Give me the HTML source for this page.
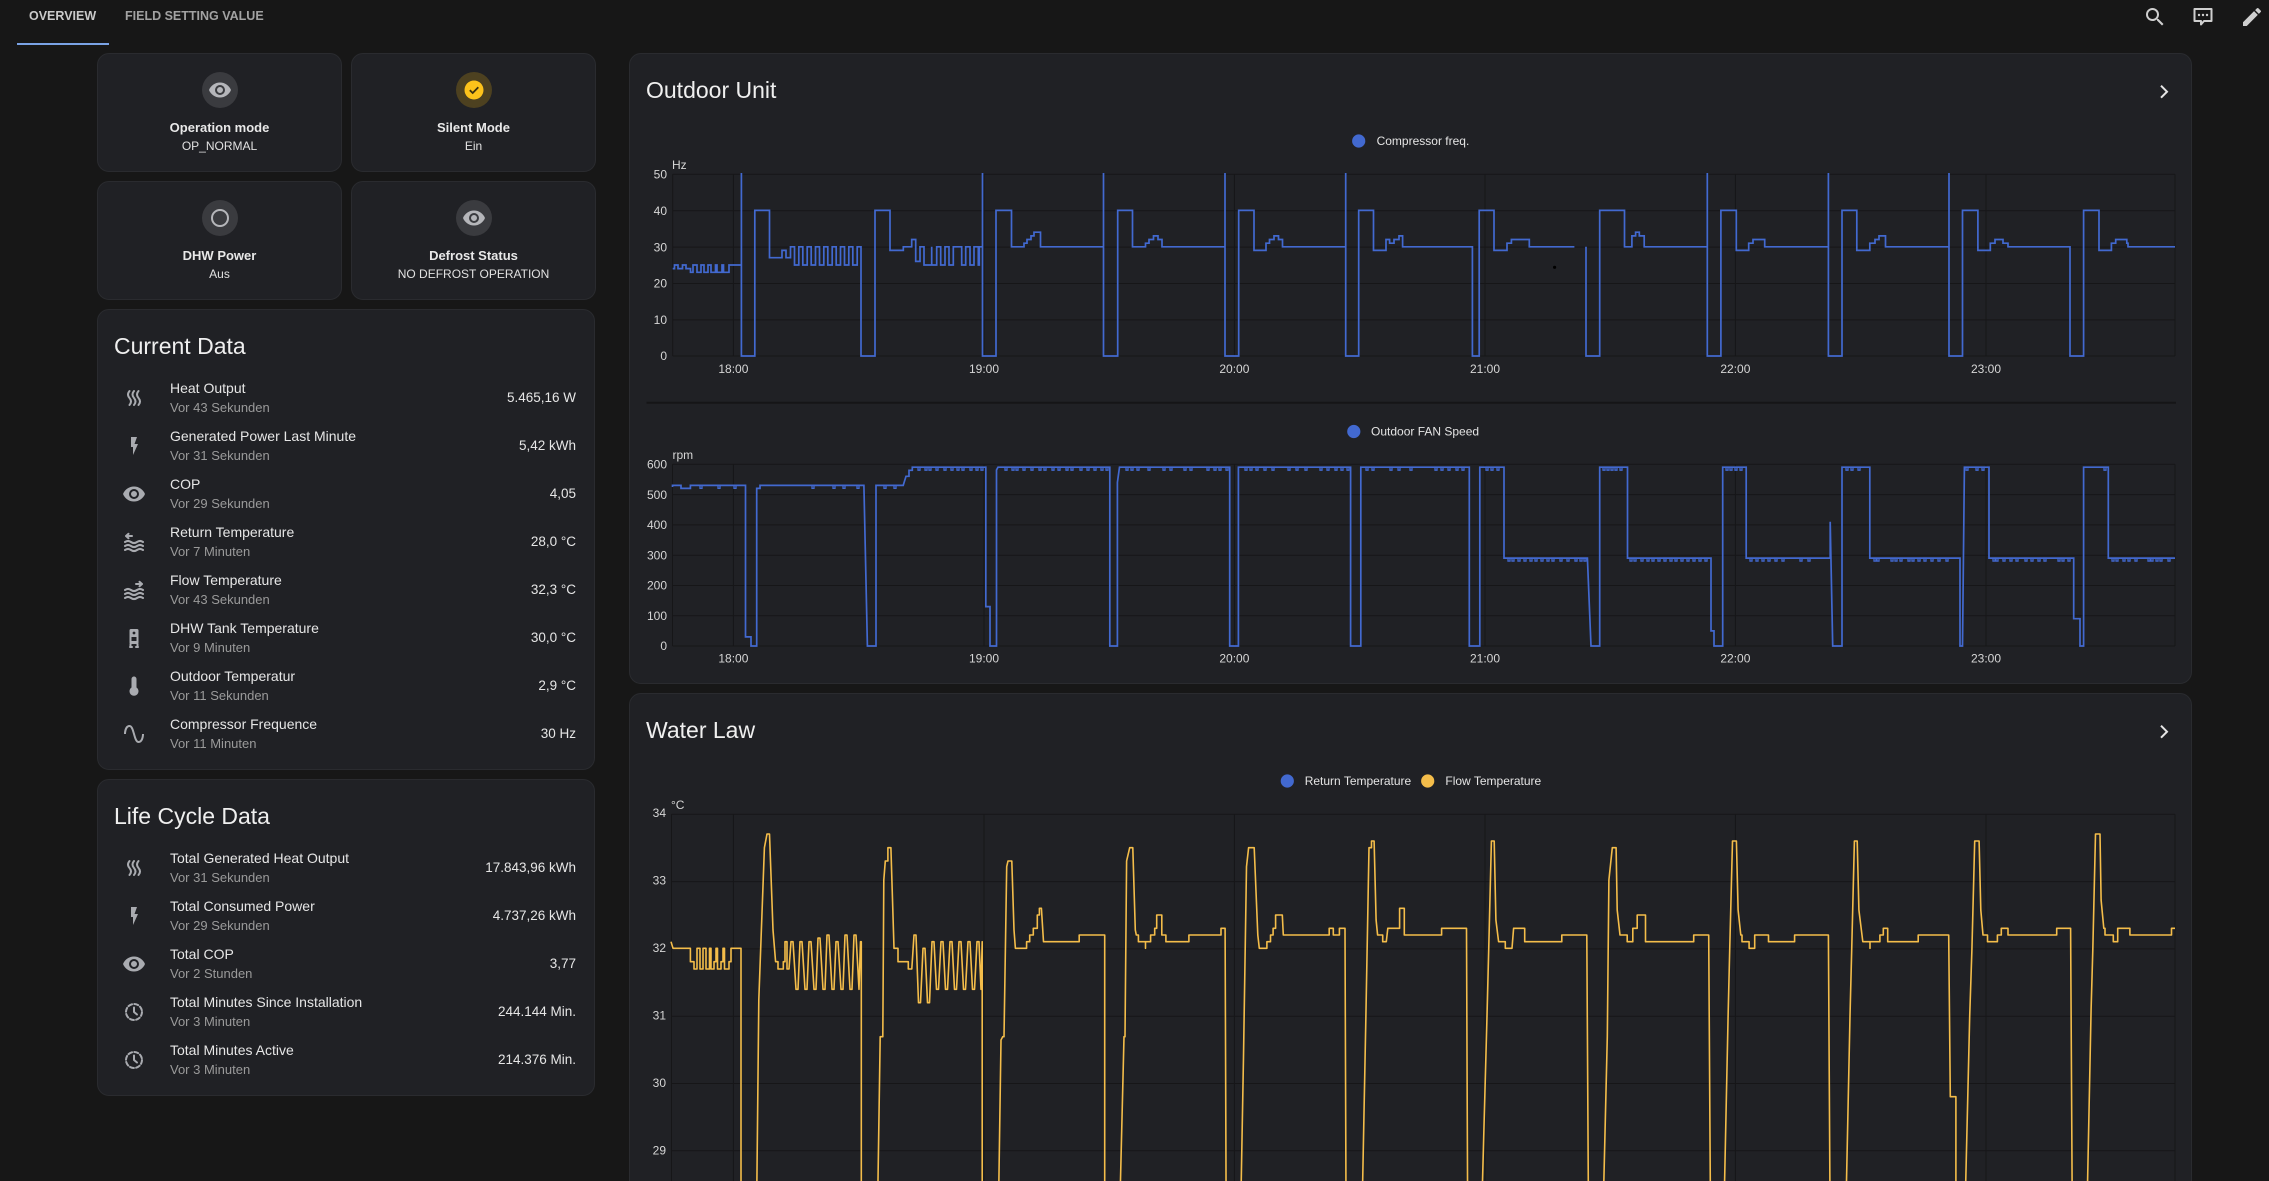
<!DOCTYPE html>
<html><head><meta charset="utf-8"><style>
*{box-sizing:border-box}
html,body{margin:0;padding:0;width:2269px;height:1181px;overflow:hidden;background:#171717}
#root{position:relative;width:2269px;height:1181px;overflow:hidden;background:#171717;font-family:"Liberation Sans",sans-serif;color:#e1e1e1}
.card{position:absolute;background:#202125;border:1px solid #2a2b2f;border-radius:12px}
.tile .ic{position:absolute;left:calc(50% - 18px);top:18px;width:36px;height:36px;border-radius:50%;background:#3a3b3f}
.tile .ic svg{position:absolute;left:6px;top:6px}
.tile .nm{position:absolute;left:0;right:0;top:66px;line-height:16px;text-align:center;font-size:13px;font-weight:bold;color:#e8e8e8}
.tile .st{position:absolute;left:0;right:0;top:85px;line-height:14px;text-align:center;font-size:12px;color:#e1e1e1}
.ttl{position:absolute;left:16px;top:22px;line-height:28px;font-size:23px;color:#efefef;white-space:nowrap}
.row{position:absolute;left:0;right:0;height:48px}
.row svg{position:absolute;left:24px;top:7px}
.row .n{position:absolute;left:72px;top:0;line-height:18px;font-size:14px;color:#e6e6e6;white-space:nowrap}
.row .s{position:absolute;left:72px;top:20.5px;line-height:16px;font-size:13px;color:#9a9a9a;white-space:nowrap}
.row .v{position:absolute;right:18px;top:10px;line-height:18px;font-size:13.5px;color:#e6e6e6;white-space:nowrap}
.ico{fill:#a9abb0}
.ics{fill:none;stroke:#a9abb0;stroke-width:2;stroke-linecap:round;stroke-linejoin:round}
</style></head><body><div id="root">

<!-- tabs -->
<div style="position:absolute;left:29px;top:8px;line-height:16px;font-size:12.5px;font-weight:bold;color:#cacaca">OVERVIEW</div>
<div style="position:absolute;left:125px;top:8px;line-height:16px;font-size:12.5px;font-weight:bold;color:#a2a2a2">FIELD SETTING VALUE</div>
<div style="position:absolute;left:17px;top:42.7px;width:92px;height:2px;background:#7aa3e5"></div>

<!-- top right icons -->
<svg style="position:absolute;left:2143px;top:5px" width="24" height="24" viewBox="0 0 24 24"><path fill="#cfcfcf" d="M9.5,3A6.5,6.5 0 0,1 16,9.5C16,11.11 15.41,12.59 14.44,13.73L14.71,14H15.5L20.5,19L19,20.5L14,15.5V14.71L13.73,14.44C12.59,15.41 11.11,16 9.5,16A6.5,6.5 0 0,1 3,9.5A6.5,6.5 0 0,1 9.5,3M9.5,5C7,5 5,7 5,9.5C5,12 7,14 9.5,14C12,14 14,12 14,9.5C14,7 12,5 9.5,5Z"/></svg>
<svg style="position:absolute;left:2191px;top:5px" width="24" height="24" viewBox="0 0 24 24"><path fill="none" stroke="#cfcfcf" stroke-width="2" stroke-linejoin="round" d="M3.5 4H20.5V16H13L10 19.5V16H3.5Z"/><circle cx="8" cy="10" r="1.2" fill="#cfcfcf"/><circle cx="12" cy="10" r="1.2" fill="#cfcfcf"/><circle cx="16" cy="10" r="1.2" fill="#cfcfcf"/></svg>
<svg style="position:absolute;left:2240px;top:5px" width="24" height="24" viewBox="0 0 24 24"><path fill="#cfcfcf" d="M20.71,7.04C21.1,6.65 21.1,6 20.71,5.63L18.37,3.29C18,2.9 17.35,2.9 16.96,3.29L15.12,5.12L18.87,8.87M3,17.25V21H6.75L17.81,9.93L14.06,6.18L3,17.25Z"/></svg>

<!-- tile cards -->
<div class="card tile" style="left:97px;top:53px;width:245px;height:119px">
 <div class="ic"><svg width="24" height="24" viewBox="0 0 24 24"><path fill="#b5b6ba" d="M12,9A3,3 0 0,0 9,12A3,3 0 0,0 12,15A3,3 0 0,0 15,12A3,3 0 0,0 12,9M12,17A5,5 0 0,1 7,12A5,5 0 0,1 12,7A5,5 0 0,1 17,12A5,5 0 0,1 12,17M12,4.5C7,4.5 2.73,7.61 1,12C2.73,16.39 7,19.5 12,19.5C17,19.5 21.27,16.39 23,12C21.27,7.61 17,4.5 12,4.5Z"/></svg></div>
 <div class="nm">Operation mode</div><div class="st">OP_NORMAL</div>
</div>
<div class="card tile" style="left:351px;top:53px;width:245px;height:119px">
 <div class="ic" style="background:#4d4120"><svg width="24" height="24" viewBox="0 0 24 24"><circle cx="12" cy="12" r="9.5" fill="#fcc21b"/><path d="M7.8 12.2L10.7 15L16.3 9.3" fill="none" stroke="#3a300f" stroke-width="1.8"/></svg></div>
 <div class="nm">Silent Mode</div><div class="st">Ein</div>
</div>
<div class="card tile" style="left:97px;top:181px;width:245px;height:119px">
 <div class="ic"><svg width="24" height="24" viewBox="0 0 24 24"><circle cx="12" cy="12" r="8" fill="none" stroke="#b5b6ba" stroke-width="2"/></svg></div>
 <div class="nm">DHW Power</div><div class="st">Aus</div>
</div>
<div class="card tile" style="left:351px;top:181px;width:245px;height:119px">
 <div class="ic"><svg width="24" height="24" viewBox="0 0 24 24"><path fill="#b5b6ba" d="M12,9A3,3 0 0,0 9,12A3,3 0 0,0 12,15A3,3 0 0,0 15,12A3,3 0 0,0 12,9M12,17A5,5 0 0,1 7,12A5,5 0 0,1 12,7A5,5 0 0,1 17,12A5,5 0 0,1 12,17M12,4.5C7,4.5 2.73,7.61 1,12C2.73,16.39 7,19.5 12,19.5C17,19.5 21.27,16.39 23,12C21.27,7.61 17,4.5 12,4.5Z"/></svg></div>
 <div class="nm">Defrost Status</div><div class="st">NO DEFROST OPERATION</div>
</div>

<!-- Current Data -->
<div class="card" style="left:97px;top:309px;width:498px;height:461px">
 <div class="ttl">Current Data</div>
 <div class="row" style="top:69px"><svg width="24" height="24" viewBox="0 0 24 24"><path class="ics" d="M7.5 5q-3 3.5 0 7t0 7M12 5q-3 3.5 0 7t0 7M16.5 5q-3 3.5 0 7t0 7"/></svg><div class="n">Heat Output</div><div class="s">Vor 43 Sekunden</div><div class="v">5.465,16 W</div></div>
 <div class="row" style="top:117px"><svg width="24" height="24" viewBox="0 0 24 24"><path class="ico" d="M9,3V13H11V21L16,10H12.5L15,3H9Z"/></svg><div class="n">Generated Power Last Minute</div><div class="s">Vor 31 Sekunden</div><div class="v">5,42 kWh</div></div>
 <div class="row" style="top:165px"><svg width="24" height="24" viewBox="0 0 24 24"><path class="ico" d="M12,9A3,3 0 0,0 9,12A3,3 0 0,0 12,15A3,3 0 0,0 15,12A3,3 0 0,0 12,9M12,17A5,5 0 0,1 7,12A5,5 0 0,1 12,7A5,5 0 0,1 17,12A5,5 0 0,1 12,17M12,4.5C7,4.5 2.73,7.61 1,12C2.73,16.39 7,19.5 12,19.5C17,19.5 21.27,16.39 23,12C21.27,7.61 17,4.5 12,4.5Z"/></svg><div class="n">COP</div><div class="s">Vor 29 Sekunden</div><div class="v">4,05</div></div>
 <div class="row" style="top:213px"><svg width="24" height="24" viewBox="0 0 24 24"><path class="ics" stroke-width="1.6" d="M4 6H10M4 6L6.5 3.8M4 6L6.5 8.2M3 12c2-1.4 4-1.4 6 0s4 1.4 6 0 4-1.4 6 0M3 16c2-1.4 4-1.4 6 0s4 1.4 6 0 4-1.4 6 0M3 20c2-1.4 4-1.4 6 0s4 1.4 6 0 4-1.4 6 0"/></svg><div class="n">Return Temperature</div><div class="s">Vor 7 Minuten</div><div class="v">28,0 °C</div></div>
 <div class="row" style="top:261px"><svg width="24" height="24" viewBox="0 0 24 24"><path class="ics" stroke-width="1.6" d="M14 6H20M20 6L17.5 3.8M20 6L17.5 8.2M3 12c2-1.4 4-1.4 6 0s4 1.4 6 0 4-1.4 6 0M3 16c2-1.4 4-1.4 6 0s4 1.4 6 0 4-1.4 6 0M3 20c2-1.4 4-1.4 6 0s4 1.4 6 0 4-1.4 6 0"/></svg><div class="n">Flow Temperature</div><div class="s">Vor 43 Sekunden</div><div class="v">32,3 °C</div></div>
 <div class="row" style="top:309px"><svg width="24" height="24" viewBox="0 0 24 24"><rect class="ico" x="7.5" y="3" width="9" height="15" rx="1.5"/><circle cx="12" cy="7" r="1.4" fill="#202125"/><rect x="9.5" y="11" width="5" height="4" fill="#202125"/><path class="ics" stroke-width="1.6" d="M8.5 18V21M15.5 18V21M8 21H10M14 21H16"/></svg><div class="n">DHW Tank Temperature</div><div class="s">Vor 9 Minuten</div><div class="v">30,0 °C</div></div>
 <div class="row" style="top:357px"><svg width="24" height="24" viewBox="0 0 24 24"><path class="ico" d="M14.5 13.5V5A2.5 2.5 0 0 0 9.5 5V13.5A4.5 4.5 0 1 0 14.5 13.5Z"/></svg><div class="n">Outdoor Temperatur</div><div class="s">Vor 11 Sekunden</div><div class="v">2,9 °C</div></div>
 <div class="row" style="top:405px"><svg width="24" height="24" viewBox="0 0 24 24"><path class="ico" d="M16.5,21C13.5,21 12.31,16.76 11.05,12.28C10.14,9.04 9,5 7.5,5C4.11,5 4,11.93 4,12H2C2,11.63 2.06,3 7.5,3C10.5,3 11.71,7.25 12.97,11.74C13.83,14.8 15,19 16.5,19C19.94,19 20.03,12.07 20.03,12H22.03C22.03,12.37 21.97,21 16.5,21Z"/></svg><div class="n">Compressor Frequence</div><div class="s">Vor 11 Minuten</div><div class="v">30 Hz</div></div>
</div>

<!-- Life Cycle -->
<div class="card" style="left:97px;top:779px;width:498px;height:317px">
 <div class="ttl">Life Cycle Data</div>
 <div class="row" style="top:69px"><svg width="24" height="24" viewBox="0 0 24 24"><path class="ics" d="M7.5 5q-3 3.5 0 7t0 7M12 5q-3 3.5 0 7t0 7M16.5 5q-3 3.5 0 7t0 7"/></svg><div class="n">Total Generated Heat Output</div><div class="s">Vor 31 Sekunden</div><div class="v">17.843,96 kWh</div></div>
 <div class="row" style="top:117px"><svg width="24" height="24" viewBox="0 0 24 24"><path class="ico" d="M9,3V13H11V21L16,10H12.5L15,3H9Z"/></svg><div class="n">Total Consumed Power</div><div class="s">Vor 29 Sekunden</div><div class="v">4.737,26 kWh</div></div>
 <div class="row" style="top:165px"><svg width="24" height="24" viewBox="0 0 24 24"><path class="ico" d="M12,9A3,3 0 0,0 9,12A3,3 0 0,0 12,15A3,3 0 0,0 15,12A3,3 0 0,0 12,9M12,17A5,5 0 0,1 7,12A5,5 0 0,1 12,7A5,5 0 0,1 17,12A5,5 0 0,1 12,17M12,4.5C7,4.5 2.73,7.61 1,12C2.73,16.39 7,19.5 12,19.5C17,19.5 21.27,16.39 23,12C21.27,7.61 17,4.5 12,4.5Z"/></svg><div class="n">Total COP</div><div class="s">Vor 2 Stunden</div><div class="v">3,77</div></div>
 <div class="row" style="top:213px"><svg width="24" height="24" viewBox="0 0 24 24"><circle cx="12" cy="12" r="8" class="ics" stroke-dasharray="4 2.3"/><path class="ics" d="M12 7.5V12L15 14.5"/></svg><div class="n">Total Minutes Since Installation</div><div class="s">Vor 3 Minuten</div><div class="v">244.144 Min.</div></div>
 <div class="row" style="top:261px"><svg width="24" height="24" viewBox="0 0 24 24"><circle cx="12" cy="12" r="8" class="ics" stroke-dasharray="4 2.3"/><path class="ics" d="M12 7.5V12L15 14.5"/></svg><div class="n">Total Minutes Active</div><div class="s">Vor 3 Minuten</div><div class="v">214.376 Min.</div></div>
</div>

<!-- Right cards -->
<div class="card" style="left:629px;top:53px;width:1563px;height:631px"><div class="ttl">Outdoor Unit</div></div>
<div class="card" style="left:629px;top:693px;width:1563px;height:540px"><div class="ttl">Water Law</div></div>

<svg style="position:absolute;left:0;top:0" width="2269" height="1181" viewBox="0 0 2269 1181" font-family="Liberation Sans, sans-serif">
 <!-- chevrons -->
 <path d="M2161 85.7L2167 91.7L2161 97.7" fill="none" stroke="#e6e6e6" stroke-width="2"/>
 <path d="M2161 725.7L2167 731.7L2161 737.7" fill="none" stroke="#e6e6e6" stroke-width="2"/>

 <!-- grids -->
 <g stroke="#161618" stroke-width="1" fill="none">
  <path d="M672.7 174.3H2175M672.7 210.7H2175M672.7 247.1H2175M672.7 283.5H2175M672.7 319.9H2175M672.7 356H2175"/>
  <path d="M672.7 174.3V356M733.4 174.3V356M984 174.3V356M1234.4 174.3V356M1485 174.3V356M1735.4 174.3V356M1986 174.3V356M2175 174.3V356"/>
  <path d="M672.5 464.3H2175M672.5 494.6H2175M672.5 524.9H2175M672.5 555.2H2175M672.5 585.5H2175M672.5 615.8H2175M672.5 646H2175"/>
  <path d="M672.5 464.3V646M733.4 464.3V646M984 464.3V646M1234.4 464.3V646M1485 464.3V646M1735.4 464.3V646M1986 464.3V646M2175 464.3V646"/>
  <path d="M671.5 814.3H2175M671.5 881.6H2175M671.5 948.9H2175M671.5 1016.2H2175M671.5 1083.5H2175M671.5 1150.8H2175"/>
  <path d="M671.5 814.3V1181M733.4 814.3V1181M984 814.3V1181M1234.4 814.3V1181M1485 814.3V1181M1735.4 814.3V1181M1986 814.3V1181M2175 814.3V1181"/>
 </g>
 <path d="M646.5 402.7H2176" stroke="#151517" stroke-width="2"/>

 <g font-size="12" fill="#d6d6d6">
  <text x="672" y="165" dy="0.35em">Hz</text>
  <g text-anchor="end">
   <text x="667" y="174.3" dy="0.35em">50</text><text x="667" y="210.7" dy="0.35em">40</text><text x="667" y="247.1" dy="0.35em">30</text><text x="667" y="283.5" dy="0.35em">20</text><text x="667" y="319.9" dy="0.35em">10</text><text x="667" y="356" dy="0.35em">0</text>
  </g>
  <g text-anchor="middle">
   <text x="733.4" y="368.7" dy="0.35em">18:00</text><text x="984" y="368.7" dy="0.35em">19:00</text><text x="1234.4" y="368.7" dy="0.35em">20:00</text><text x="1485" y="368.7" dy="0.35em">21:00</text><text x="1735.4" y="368.7" dy="0.35em">22:00</text><text x="1986" y="368.7" dy="0.35em">23:00</text>
  </g>
  <text x="672.5" y="455" dy="0.35em">rpm</text>
  <g text-anchor="end">
   <text x="667" y="464.3" dy="0.35em">600</text><text x="667" y="494.6" dy="0.35em">500</text><text x="667" y="524.9" dy="0.35em">400</text><text x="667" y="555.2" dy="0.35em">300</text><text x="667" y="585.5" dy="0.35em">200</text><text x="667" y="615.8" dy="0.35em">100</text><text x="667" y="646" dy="0.35em">0</text>
  </g>
  <g text-anchor="middle">
   <text x="733.4" y="658.3" dy="0.35em">18:00</text><text x="984" y="658.3" dy="0.35em">19:00</text><text x="1234.4" y="658.3" dy="0.35em">20:00</text><text x="1485" y="658.3" dy="0.35em">21:00</text><text x="1735.4" y="658.3" dy="0.35em">22:00</text><text x="1986" y="658.3" dy="0.35em">23:00</text>
  </g>
  <text x="671" y="805" dy="0.35em">°C</text>
  <g text-anchor="end">
   <text x="666" y="813" dy="0.35em">34</text><text x="666" y="880.5" dy="0.35em">33</text><text x="666" y="948" dy="0.35em">32</text><text x="666" y="1015.5" dy="0.35em">31</text><text x="666" y="1083" dy="0.35em">30</text><text x="666" y="1150.5" dy="0.35em">29</text>
  </g>
 </g>

 <!-- legends -->
 <g font-size="12" fill="#e4e4e4">
  <circle cx="1358.7" cy="141" r="6.6" fill="#4269d0"/><text x="1376.6" y="141" dy="0.35em">Compressor freq.</text>
  <circle cx="1353.8" cy="431.5" r="6.6" fill="#4269d0"/><text x="1371" y="431.5" dy="0.35em">Outdoor FAN Speed</text>
  <circle cx="1287.3" cy="781" r="6.6" fill="#4269d0"/><text x="1304.7" y="781" dy="0.35em">Return Temperature</text>
  <circle cx="1427.7" cy="781" r="6.6" fill="#f4bd4a"/><text x="1445.4" y="781" dy="0.35em">Flow Temperature</text>
 </g>

 <!-- series 1 : compressor -->
 <path fill="none" stroke="#4269d0" stroke-width="1.7" stroke-linejoin="miter" d="M672.7 268.6H674.5V265H678V268.6H682.5V265H686V268.6H690.5V272.3H693V265H697V272.3H701V265H704V272.3H708V265H711V272.3H715.5V265H717V272.3H722V265H723.5V272.3H729V265H741.4V173V356H754.8V210.4H769.5V257.7H782V250.4H786V257.7H790.5V246.8H794.5V265H798.8V246.8H802.8V265H807.2V246.8H811.2V265H815.5V246.8H819.5V265H823.8V246.8H827.8V265H832.2V246.8H836.2V265H840.5V246.8H844.5V265H848.8V246.8H852.8V265H857.2V246.8H861V356H875V210.4H890V250.4H903.3V246.8H911.7V239.5H915.7V261.4H920V246.8H924V265H931.7V246.8V265H936.7V246.8H940.7V265H945V246.8H949V265H953.3V246.8H961.7V265H965.7V246.8H970V265H974V246.8H978.3V265H979.3V246.8H982.5V173V356H996V210.4H1011.5V246.8H1024V243.2H1027V239.5H1031V235.9H1034V232.2H1040.5V246.8H1103.5V173V356H1117.7V210.4H1132.5V246.8H1145.5V243.2H1149V239.5H1153.5V235.9H1158V239.5H1162V246.8H1225V173V356H1238.7V210.4H1254V250.4H1266V243.2H1269.5V239.5H1274V235.9H1278.5V239.5H1282.5V246.8H1345.7V173V356H1358.7V210.4H1373.5V250.4H1386V239.5H1389.6V243.2H1394V239.5H1399V235.9H1402.6V246.8H1472.4V356H1479.2V210.4H1494V250.4H1507V243.2H1511.4V239.5H1529.3V246.8H1574.4M1586 246.8V356H1599.7V210.4H1624.5V246.8H1631.9V235.9H1635.6V232.2H1639.3V235.9H1644.2V246.8H1707.3V173V356H1720.9V210.4H1736.3V250.4H1748.7V243.2H1753V239.5H1764.7V246.8H1828.4V173V356H1842V210.4H1856.8V250.4H1869.8V243.2H1875V239.5H1879V235.9H1885.5V246.8H1949V173V356H1962.5V210.4H1977.9V250.4H1990.3V243.2H1995V239.5H2003V243.2H2008V246.8H2070V356H2083.6V210.4H2099V250.4H2111.4V243.2H2115.7V239.5H2126.8V243.2H2128V246.8H2175"/>
 <circle cx="1554.6" cy="267.3" r="1.6" fill="#000"/>

 <!-- series 2 : fan -->
 <path fill="none" stroke="#4269d0" stroke-width="1.7" d="M672.5 487V485.4H681V488.4H690.4V485.4H745.5V636.9H751V646H756.7V488.4H760V485.4H863.9L867.4 646H876V485.4H903.2L906 476.3H909V470.3H912.3V467.2H985.8V606.6H990V646H996.5V470L998 467.2H1109.8V646H1117.4V482.4L1119.5 467.2H1229.7V646H1238.4V467.2H1350.6V646H1360.8V467.2H1469.3V646H1479.8V467.2H1504V558.1H1587.4L1591 646H1599.7V467.2H1627.5V558.1H1711V630.9H1714V646H1722.7V467.2H1746.2V558.1H1830.2V521.8L1832.7 646H1842V467.2H1869.8V558.1H1960V646H1962.5L1964.4 467.2H1989V558.1H2073.7V618.7H2080V646H2083.6V467.2H2108.3V558.1H2175"/>
 <path fill="none" stroke="#4269d0" stroke-width="1.3" d="M700 485.4v3h2v-3M718 485.4v3h2v-3M734 485.4v3h2v-3M812 485.4v3h2v-3M833 485.4v3h2v-3M843 485.4v3h2v-3M857 485.4v3h2v-3M884 485.4v3h2v-3M894 485.4v3h2v-3M918 467.2v3h2v-3M925 467.2v3h2v-3M929 467.2v3h2v-3M936 467.2v3h2v-3M944 467.2v3h2v-3M951 467.2v3h2v-3M957 467.2v3h2v-3M962 467.2v3h2v-3M970 467.2v3h2v-3M976 467.2v3h2v-3M981 467.2v3h2v-3M1005 467.2v3h2v-3M1012 467.2v3h2v-3M1016 467.2v3h2v-3M1023 467.2v3h2v-3M1031 467.2v3h2v-3M1039 467.2v3h2v-3M1044 467.2v3h2v-3M1052 467.2v3h2v-3M1058 467.2v3h2v-3M1066 467.2v3h2v-3M1071 467.2v3h2v-3M1080 467.2v3h2v-3M1087 467.2v3h2v-3M1094 467.2v3h2v-3M1101 467.2v3h2v-3M1106 467.2v3h2v-3M1126 467.2v3h2v-3M1131 467.2v3h2v-3M1137 467.2v3h2v-3M1148 467.2v3h2v-3M1163 467.2v3h2v-3M1170 467.2v3h2v-3M1184 467.2v3h2v-3M1190 467.2v3h2v-3M1207 467.2v3h2v-3M1214 467.2v3h2v-3M1219 467.2v3h2v-3M1226 467.2v3h2v-3M1245 467.2v3h2v-3M1250 467.2v3h2v-3M1256 467.2v3h2v-3M1264 467.2v3h2v-3M1272 467.2v3h2v-3M1288 467.2v3h2v-3M1296 467.2v3h2v-3M1305 467.2v3h2v-3M1320 467.2v3h2v-3M1327 467.2v3h2v-3M1335 467.2v3h2v-3M1341 467.2v3h2v-3M1347 467.2v3h2v-3M1366 467.2v3h2v-3M1372 467.2v3h2v-3M1390 467.2v3h2v-3M1398 467.2v3h2v-3M1410 467.2v3h2v-3M1435 467.2v3h2v-3M1441 467.2v3h2v-3M1448 467.2v3h2v-3M1456 467.2v3h2v-3M1462 467.2v3h2v-3M1486 467.2v3h2v-3M1491 467.2v3h2v-3M1497 467.2v3h2v-3M1603 467.2v3h2v-3M1607 467.2v3h2v-3M1611 467.2v3h2v-3M1615 467.2v3h2v-3M1620 467.2v3h2v-3M1726 467.2v3h2v-3M1730 467.2v3h2v-3M1735 467.2v3h2v-3M1740 467.2v3h2v-3M1846 467.2v3h2v-3M1851 467.2v3h2v-3M1858 467.2v3h2v-3M1966 467.2v3h2v-3M1976 467.2v3h2v-3M1982 467.2v3h2v-3M2104 467.2v3h2v-3M1508 558.1v3h2v-3M1512 558.1v3h2v-3M1518 558.1v3h2v-3M1524 558.1v3h2v-3M1530 558.1v3h2v-3M1535 558.1v3h2v-3M1541 558.1v3h2v-3M1547 558.1v3h2v-3M1552 558.1v3h2v-3M1560 558.1v3h2v-3M1567 558.1v3h2v-3M1575 558.1v3h2v-3M1580 558.1v3h2v-3M1584 558.1v3h2v-3M1630 558.1v3h2v-3M1634 558.1v3h2v-3M1641 558.1v3h2v-3M1647 558.1v3h2v-3M1652 558.1v3h2v-3M1658 558.1v3h2v-3M1664 558.1v3h2v-3M1670 558.1v3h2v-3M1675 558.1v3h2v-3M1681 558.1v3h2v-3M1687 558.1v3h2v-3M1693 558.1v3h2v-3M1699 558.1v3h2v-3M1705 558.1v3h2v-3M1750 558.1v3h2v-3M1756 558.1v3h2v-3M1762 558.1v3h2v-3M1768 558.1v3h2v-3M1775 558.1v3h2v-3M1782 558.1v3h2v-3M1800 558.1v3h2v-3M1808 558.1v3h2v-3M1874 558.1v3h2v-3M1877 558.1v3h2v-3M1891 558.1v3h2v-3M1895 558.1v3h2v-3M1900 558.1v3h2v-3M1908 558.1v3h2v-3M1912 558.1v3h2v-3M1918 558.1v3h2v-3M1924 558.1v3h2v-3M1931 558.1v3h2v-3M1938 558.1v3h2v-3M1946 558.1v3h2v-3M1993 558.1v3h2v-3M1996 558.1v3h2v-3M2003 558.1v3h2v-3M2010 558.1v3h2v-3M2016 558.1v3h2v-3M2025 558.1v3h2v-3M2031 558.1v3h2v-3M2038 558.1v3h2v-3M2044 558.1v3h2v-3M2058 558.1v3h2v-3M2062 558.1v3h2v-3M2068 558.1v3h2v-3M2112 558.1v3h2v-3M2116 558.1v3h2v-3M2123 558.1v3h2v-3M2128 558.1v3h2v-3M2135 558.1v3h2v-3M2148 558.1v3h2v-3M2151 558.1v3h2v-3M2156 558.1v3h2v-3M2160 558.1v3h2v-3M2168 558.1v3h2v-3"/>

 <!-- series 3 : flow temperature -->
 <path fill="none" stroke="#f4bd4a" stroke-width="1.6" stroke-linejoin="round" d="M671 941.7L673 948.3H690.4V961.7H694V969H697V948.3H700V969H703V948.3H706V969H709.5V948.3H711V969H714V961.7H716V948.3H717.5V969H721V961.7H723V948.3H724.5V969H729V961.7H731V948.3H736.3H741V1200M756.7 1200L758.8 1000L764.4 847.7L767 834H769.5L773 930L775.6 961.7H778V969H783.3V961.7H785V941.7H787V969H789L791 941.7L793 941.7L796 989.3L798 989.3L800 941.7L802 941.7L805 989.3L807 989.3L809 941.7L811 941.7L814 989.3L816 989.3L818 938L820 938L823 989.3L825 989.3L827 935L829 935L832 989.3L834 989.3L836 941.7L838 941.7L841 989.3L843 989.3L845 935L847 935L850 989.3L852 989.3L854 935L856 935L859 989.3L860.5 941.7L861.3 941.7V1200M877.7 1200L880.2 1036.7H882.8L883.8 880L885.3 861H887.9V847.7H890.9L894 948.3H898V961.7H908.3V969H911.8L914 935L916 935L918.5 1002.7L920.5 1002.7L923 948.3L925 948.3L927.5 1002.7L929.5 1002.7L932 941.7L934 941.7L936.5 989.3L938.5 989.3L941 941.7L943 941.7L945.5 989.3L947.5 989.3L950 941.7L952 941.7L954.5 989.3L956.5 989.3L959 941.7L961 941.7L963.5 989.3L965.5 989.3L968 941.7L970 941.7L972.5 989.3L974.5 989.3L977 941.7L979 941.7L981 989.3L982.2 941.7V1200M998.6 1200L1001 1040L1002.7 1036.7H1004L1006.7 866.7L1008 861H1011.8L1014 930L1015.4 948.3H1026.6V941.7H1029.7V935H1033.3V928.3H1037.3V915H1039.4V908.3H1041.4L1043.5 941.7H1079.2V935H1104.7V1200M1120 1200L1124 1036.7H1125L1126.6 861L1129.7 847.7H1132.8L1135.3 930L1136.3 935H1138.4V941.7H1145.5V948.3V941.7H1150.6V935H1154.7V928.3H1156.7V915H1161.8V935H1165.9V941.7H1188.9V935H1221V928.3H1225.1L1226.1 1200M1240.9 1200L1243.5 1056.7L1246.5 866.7L1248.6 847.7H1254.2L1257.8 935L1259.3 948.3H1266.9V941.7H1270.5V935H1273.1V928.3H1275.6V915H1282.3L1283.3 935H1329.2V928.3H1333.3V935H1339.4V928.3H1345L1346 1200M1362.3 1200L1365.9 1016L1369 847.7H1371.5V841H1374.1L1376.1 920L1377.6 935H1382.7V941.7H1386.3L1387.8 928.3H1399.6V908.3H1404.3V935H1441.6V928.3H1466.5L1467.6 1200M1482 1200L1487 1016L1488.7 950L1491.4 841H1494.2L1495.9 920L1498.6 941.7H1505.3V948.3H1512L1513.6 928.3H1524.7V941.7H1561.8V935H1586.8L1588.4 1200M1603.4 1200L1607.3 1036.7L1608.9 880L1612.3 847.7H1616.1L1617.2 910L1620 935H1627.2V941.7H1632.8V928.3H1637.2V915H1645.5V941.7H1693.7V935H1708.7L1710.4 1200M1724.2 1200L1728.1 1016L1729.7 950L1732.5 841H1736.4L1738.1 910L1740.8 935H1742V941.7H1749.1V948.3H1754.7V935H1768.5V941.7H1794.6V935H1828.4L1830 1200M1846.1 1200L1850 1016L1851.7 950L1854.4 841H1857.2L1858.9 910L1862.8 941.7H1870V948.3V941.7H1879.9V935H1883.3V928.3H1887.7V941.7H1918.2V935H1948.7L1950.3 1096.7H1955.9V1200M1965.3 1200L1969.7 1016L1971.9 950L1974.7 841H1979.1L1980.8 910L1983 935H1987.5V941.7H1997.4V935H2001.3V928.3H2008V935H2056.7V928.3H2070.6L2072.2 1200M2087.2 1200L2091.1 1009.3L2092.8 950L2095.5 834H2100L2101.1 900L2103.8 928.3H2105V935H2113.3V941.7H2117.7V928.3H2129.9V935H2171.5V928.3H2175"/>
</svg>
</div></body></html>
